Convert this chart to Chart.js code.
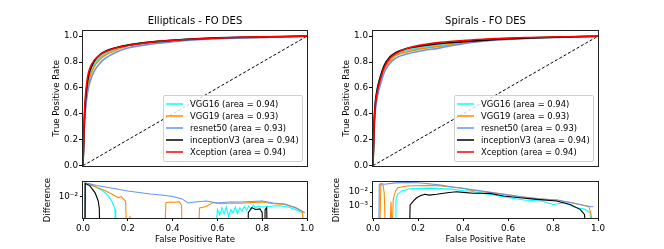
<!DOCTYPE html>
<html>
<head>
<meta charset="utf-8">
<title>ROC curves - FO DES</title>
<script src="https://cdn.jsdelivr.net/npm/chart.js@4.4.1/dist/chart.umd.min.js"></script>
<style>
  html, body { margin: 0; padding: 0; background: #fff; }
  #figure { position: relative; width: 664px; height: 249px; overflow: hidden; font-family: 'DejaVu Sans', sans-serif; }
  #figure canvas { position: absolute; }
  .legend { position: absolute; top: 95px; width: 138px; height: 63px; padding-top: 2px; border: 1px solid #d0d0d0; border-radius: 2px; background: rgba(255,255,255,0.8); font-size: 8.4px; color: #000; }
  .legend div { position: relative; height: 12px; line-height: 12px; padding-left: 26px; white-space: nowrap; }
  .legend span { position: absolute; left: 2px; top: 5px; width: 17px; height: 2px; opacity: 0.75; }
</style>
</head>
<body>
<div id="figure">
  <canvas id="ellRoc" width="332" height="172" style="left:0;top:0"></canvas>
  <canvas id="spiRoc" width="332" height="172" style="left:332px;top:0"></canvas>
  <canvas id="ellDiff" width="332" height="77" style="left:0;top:172px"></canvas>
  <canvas id="spiDiff" width="332" height="77" style="left:332px;top:172px"></canvas>
  <div class="legend" id="ellLegend" style="left:163px"></div>
  <div class="legend" id="spiLegend" style="left:454px"></div>
</div>
<script>
// models, in the order they were plotted
const models = ['VGG16', 'VGG19', 'resnet50', 'inceptionV3', 'Xception'];
const modelColors = ['#00ffff', '#ff8c00', '#6495ed', '#000000', '#ff0000'];
const ellAreas = [0.94, 0.93, 0.93, 0.94, 0.94];
const spiAreas = [0.94, 0.93, 0.93, 0.94, 0.94];

// ROC curves
const ellFpr = [0, 0.005, 0.01, 0.02, 0.03, 0.05, 0.075, 0.1, 0.15, 0.2, 0.3, 0.4, 0.5, 0.6, 0.7, 0.8, 0.9, 1.0];
const ellVgg16 = [0, 0.28, 0.45, 0.61, 0.70, 0.78, 0.835, 0.865, 0.908, 0.93, 0.954, 0.968, 0.979, 0.985, 0.989, 0.992, 0.995, 1];
const ellVgg19 = [0, 0.27, 0.44, 0.60, 0.68, 0.765, 0.82, 0.855, 0.895, 0.926, 0.955, 0.969, 0.977, 0.983, 0.987, 0.991, 0.995, 1];
const ellResnet = [0, 0.26, 0.41, 0.56, 0.64, 0.73, 0.79, 0.83, 0.878, 0.908, 0.938, 0.957, 0.971, 0.98, 0.985, 0.99, 0.995, 1];
const ellInception = [0, 0.30, 0.48, 0.65, 0.73, 0.805, 0.856, 0.884, 0.913, 0.931, 0.954, 0.968, 0.979, 0.987, 0.992, 0.995, 0.998, 1];
const ellXception = [0, 0.33, 0.52, 0.68, 0.75, 0.815, 0.855, 0.88, 0.91, 0.928, 0.952, 0.967, 0.978, 0.986, 0.991, 0.995, 0.998, 1];

const spiFpr = [0, 0.005, 0.01, 0.02, 0.03, 0.05, 0.075, 0.1, 0.15, 0.2, 0.3, 0.4, 0.5, 0.6, 0.7, 0.8, 0.9, 1.0];
const spiVgg16 = [0, 0.34, 0.48, 0.60, 0.67, 0.77, 0.83, 0.858, 0.89, 0.908, 0.934, 0.955, 0.968, 0.979, 0.986, 0.991, 0.996, 1];
const spiVgg19 = [0, 0.30, 0.44, 0.57, 0.64, 0.745, 0.81, 0.85, 0.878, 0.898, 0.923, 0.948, 0.965, 0.977, 0.985, 0.99, 0.996, 1];
const spiResnet = [0, 0.28, 0.42, 0.54, 0.61, 0.72, 0.79, 0.83, 0.862, 0.882, 0.91, 0.942, 0.963, 0.976, 0.985, 0.99, 0.996, 1];
const spiInception = [0, 0.33, 0.48, 0.60, 0.67, 0.775, 0.84, 0.872, 0.905, 0.92, 0.944, 0.958, 0.969, 0.98, 0.987, 0.992, 0.996, 1];
const spiXception = [0, 0.32, 0.46, 0.58, 0.65, 0.76, 0.83, 0.865, 0.905, 0.927, 0.952, 0.967, 0.977, 0.985, 0.99, 0.994, 0.997, 1];

// chance line
const diagX = [0, 1];
const diagY = [0, 1];

// differences (log panel); FLOOR marks values at or below zero, they fall off the axis
const FLOOR = 1e-5;
const ellDiffVgg16X = [0.006, 0.01, 0.046, 0.09, 0.113, 0.128, 0.143, 0.146, 0.58, 0.6, 0.61, 0.62, 0.63, 0.64, 0.65, 0.66, 0.67, 0.68, 0.69, 0.7, 0.71, 0.72, 0.73, 0.74, 0.75, 0.76, 0.77, 0.78, 0.8, 0.85, 0.88, 0.92, 0.96, 0.98, 0.99];
const ellDiffVgg16 = [FLOOR, 0.038, 0.029, 0.0178, 0.011, 0.0068, 0.0031, FLOOR, FLOOR, 0.003, 0.0018, 0.0035, 0.002, 0.0038, 0.0015, 0.003, 0.0022, 0.0038, 0.002, 0.0035, 0.0025, 0.004, 0.0028, 0.0042, 0.003, 0.0045, 0.0035, 0.0042, 0.0038, 0.0042, 0.0043, 0.0037, 0.0027, 0.0022, FLOOR];
const ellDiffVgg19X = [0.006, 0.01, 0.05, 0.1, 0.13, 0.158, 0.17, 0.19, 0.2, 0.21, 0.215, 0.36, 0.37, 0.39, 0.41, 0.43, 0.44, 0.445, 0.51, 0.52, 0.55, 0.58, 0.62, 0.66, 0.7, 0.75, 0.8, 0.85, 0.9, 0.95, 0.98, 0.99];
const ellDiffVgg19 = [FLOOR, 0.038, 0.028, 0.018, 0.013, 0.0094, 0.0103, 0.0068, FLOOR, 0.0016, FLOOR, FLOOR, 0.0058, 0.0062, 0.006, 0.0064, 0.0045, FLOOR, FLOOR, 0.0035, 0.004, 0.0058, 0.0052, 0.0056, 0.0055, 0.0058, 0.0062, 0.0052, 0.0049, 0.0036, 0.0024, FLOOR];
const ellDiffResnetX = [0.006, 0.01, 0.03, 0.06, 0.1, 0.15, 0.2, 0.25, 0.3, 0.35, 0.4, 0.44, 0.47, 0.5, 0.55, 0.6, 0.65, 0.7, 0.75, 0.8, 0.85, 0.9, 0.94, 0.97, 0.99];
const ellDiffResnet = [FLOOR, 0.038, 0.035, 0.030, 0.026, 0.0215, 0.0178, 0.0154, 0.0133, 0.0121, 0.0105, 0.0085, 0.0056, 0.0062, 0.0068, 0.0056, 0.0062, 0.0062, 0.0065, 0.0068, 0.0056, 0.0051, 0.0038, 0.0029, 0.0022];
const ellDiffInceptionX = [0.008, 0.01, 0.031, 0.054, 0.068, 0.073, 0.076, 0.735, 0.738, 0.753, 0.77, 0.79, 0.8, 0.805, 0.81, 0.813, 0.82, 0.825];
const ellDiffInception = [FLOOR, 0.036, 0.029, 0.0148, 0.0068, 0.0032, FLOOR, FLOOR, 0.0022, 0.0036, 0.003, 0.0032, 0.0022, FLOOR, FLOOR, 0.003, 0.0036, FLOOR];

const spiDiffVgg16X = [0.1, 0.102, 0.11, 0.128, 0.164, 0.25, 0.35, 0.41, 0.43, 0.5, 0.58, 0.67, 0.75, 0.8, 0.85, 0.905, 0.94, 0.965, 0.97];
const spiDiffVgg16 = [FLOOR, 0.003, 0.0072, 0.0118, 0.017, 0.019, 0.016, 0.012, 0.0118, 0.0075, 0.0046, 0.0027, 0.0023, 0.0013, 0.0017, 0.00076, 0.0006, 0.00033, FLOOR];
const spiDiffVgg19X = [0.03, 0.035, 0.045, 0.05, 0.055, 0.075, 0.08, 0.085, 0.09, 0.095, 0.1, 0.11, 0.15, 0.25, 0.3, 0.41, 0.43, 0.5, 0.58, 0.65, 0.73, 0.82, 0.88, 0.92, 0.96, 0.97, 0.975];
const spiDiffVgg19 = [FLOOR, 0.035, 0.03, 0.008, FLOOR, FLOOR, 0.002, FLOOR, 0.003, 0.006, 0.012, 0.02, 0.027, 0.03, 0.027, 0.018, 0.014, 0.0105, 0.0072, 0.0048, 0.0034, 0.0026, 0.0018, 0.0013, 0.0009, 0.0002, FLOOR];
const spiDiffResnetX = [0.026, 0.028, 0.035, 0.05, 0.1, 0.15, 0.2, 0.26, 0.3, 0.35, 0.43, 0.5, 0.58, 0.65, 0.73, 0.82, 0.88, 0.94, 0.97, 0.98];
const spiDiffResnet = [FLOOR, 0.035, 0.04, 0.036, 0.045, 0.048, 0.046, 0.037, 0.031, 0.024, 0.0155, 0.011, 0.0068, 0.0048, 0.0033, 0.0027, 0.0017, 0.0011, 0.0009, 0.0009];
const spiDiffInceptionX = [0.162, 0.165, 0.18, 0.194, 0.21, 0.23, 0.25, 0.283, 0.33, 0.37, 0.4, 0.446, 0.52, 0.58, 0.653, 0.727, 0.816, 0.876, 0.92, 0.94, 0.945];
const spiDiffInception = [FLOOR, 0.0012, 0.0023, 0.0039, 0.0055, 0.0069, 0.006, 0.0069, 0.009, 0.0105, 0.0095, 0.0081, 0.008, 0.0052, 0.0039, 0.003, 0.0023, 0.0013, 0.00058, 0.00025, FLOOR];

// axis ticks
const tprTicks = [0, 0.2, 0.4, 0.6, 0.8, 1.0];
const fprTicks = [0, 0.2, 0.4, 0.6, 0.8, 1.0];
const ellDiffTicks = [0.01];
const spiDiffTicks = [0.001, 0.01];

Chart.defaults.font.family = "'DejaVu Sans', sans-serif";
Chart.defaults.font.size = 8.8;
Chart.defaults.color = '#000';
Chart.defaults.animation = false;

const axisTitleFont = { size: 8.6 };

// black box around each axes, like matplotlib spines
const framePlugin = {
    id: 'frame',
    afterDatasetsDraw(chart) {
        const { ctx, chartArea: a } = chart;
        ctx.save();
        ctx.strokeStyle = '#222';
        ctx.lineWidth = 1;
        ctx.strokeRect(Math.round(a.left) - 0.5, Math.round(a.top) - 0.5,
            Math.round(a.right - a.left) + 1, Math.round(a.bottom - a.top) + 1);
        ctx.restore();
    }
};

function points(xs, ys) {
    return xs.map((x, i) => ({ x: x, y: ys[i] }));
}

function fixedTicks(values) {
    return scale => { scale.ticks = values.map(v => ({ value: v })); };
}

function powerLabel(v) {
    const sup = { '-': '\u207b', '0': '\u2070', '1': '\u00b9', '2': '\u00b2', '3': '\u00b3', '4': '\u2074' };
    const exp = String(Math.round(Math.log10(v)));
    return '10' + exp.split('').map(c => sup[c]).join('');
}

function drawRoc(canvasId, title, fpr, curves, pad) {
    const datasets = curves.map((tpr, i) => ({
        label: models[i],
        data: points(fpr, tpr),
        borderColor: modelColors[i],
        borderWidth: 1.6,
        pointRadius: 0,
        cubicInterpolationMode: 'monotone',
        order: 5 - i
    }));
    datasets.push({
        data: points(diagX, diagY),
        borderColor: '#000',
        borderWidth: 1,
        borderDash: [3, 2],
        pointRadius: 0,
        order: 10
    });
    new Chart(document.getElementById(canvasId), {
        type: 'line',
        data: { datasets: datasets },
        options: {
            responsive: false,
            devicePixelRatio: 1,
            layout: { padding: { left: pad.left, right: pad.right, top: 0, bottom: 5 } },
            plugins: {
                legend: { display: false },
                tooltip: { enabled: false },
                title: {
                    display: true, text: title, fullSize: false,
                    font: { size: 10, weight: 'normal' }, color: '#000',
                    padding: { top: 15, bottom: 4 }
                }
            },
            scales: {
                x: { type: 'linear', min: 0, max: 1, display: false },
                y: {
                    type: 'linear', min: 0, max: 1.04,
                    afterBuildTicks: fixedTicks(tprTicks),
                    afterFit: s => { s.width = pad.axis; },
                    ticks: { padding: 1, autoSkip: false, callback: v => v.toFixed(1) },
                    grid: { drawOnChartArea: false, tickLength: 4, color: '#000' },
                    border: { display: false },
                    title: { display: true, text: 'True Positive Rate', padding: 0, font: axisTitleFont }
                }
            }
        },
        plugins: [framePlugin]
    });
}

function drawDiff(canvasId, series, range, logTicks, pad) {
    const datasets = series.map((s, i) => ({
        label: models[i],
        data: points(s[0], s[1]),
        borderColor: modelColors[i],
        borderWidth: 1.1,
        pointRadius: 0,
        order: 4 - i
    }));
    new Chart(document.getElementById(canvasId), {
        type: 'line',
        data: { datasets: datasets },
        options: {
            responsive: false,
            devicePixelRatio: 1,
            layout: { padding: { left: pad.left, right: pad.right, top: 10, bottom: 0 } },
            plugins: { legend: { display: false }, tooltip: { enabled: false } },
            scales: {
                x: {
                    type: 'linear', min: 0, max: 1,
                    afterBuildTicks: fixedTicks(fprTicks),
                    afterFit: s => { s.height = 31; },
                    ticks: { padding: 2, autoSkip: false, maxRotation: 0, callback: v => v.toFixed(1) },
                    grid: { drawOnChartArea: false, tickLength: 3, color: '#000' },
                    border: { display: false },
                    title: { display: true, text: 'False Positive Rate', padding: { top: 0, bottom: 4 }, font: axisTitleFont }
                },
                y: {
                    type: 'logarithmic', min: range[0], max: range[1],
                    afterBuildTicks: fixedTicks(logTicks),
                    afterFit: s => { s.width = pad.axis; },
                    ticks: { padding: 2, autoSkip: false, callback: v => powerLabel(v) },
                    grid: { drawOnChartArea: false, tickLength: 3, color: '#000' },
                    border: { display: false },
                    title: { display: true, text: 'Difference', padding: 0, font: axisTitleFont }
                }
            }
        },
        plugins: [framePlugin]
    });
}

function buildLegend(id, areas) {
    const box = document.getElementById(id);
    models.forEach((name, i) => {
        const row = document.createElement('div');
        const line = document.createElement('span');
        line.style.background = modelColors[i];
        row.appendChild(line);
        row.appendChild(document.createTextNode(name + ' (area = ' + areas[i].toFixed(2) + ')'));
        box.appendChild(row);
    });
}

drawRoc('ellRoc', 'Ellipticals - FO DES',
    ellFpr, [ellVgg16, ellVgg19, ellResnet, ellInception, ellXception],
    { left: 52, right: 25, axis: 31 });
drawRoc('spiRoc', 'Spirals - FO DES',
    spiFpr, [spiVgg16, spiVgg19, spiResnet, spiInception, spiXception],
    { left: 10, right: 66, axis: 31 });

drawDiff('ellDiff', [
    [ellDiffVgg16X, ellDiffVgg16],
    [ellDiffVgg19X, ellDiffVgg19],
    [ellDiffResnetX, ellDiffResnet],
    [ellDiffInceptionX, ellDiffInception]
], [0.00133, 0.042], ellDiffTicks, { left: 43, right: 25, axis: 40 });
drawDiff('spiDiff', [
    [spiDiffVgg16X, spiDiffVgg16],
    [spiDiffVgg19X, spiDiffVgg19],
    [spiDiffResnetX, spiDiffResnet],
    [spiDiffInceptionX, spiDiffInception]
], [0.00014, 0.052], spiDiffTicks, { left: 0, right: 66, axis: 41 });

buildLegend('ellLegend', ellAreas);
buildLegend('spiLegend', spiAreas);
</script>
</body>
</html>
